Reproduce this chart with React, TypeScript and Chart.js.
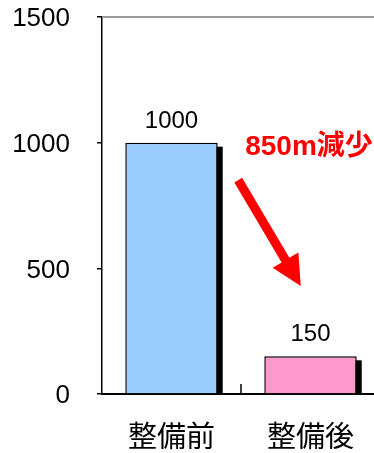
import React, { useEffect, useRef } from "react";
import { Chart, registerables } from "chart.js";

Chart.register(...registerables);

const categories = ["整備前", "整備後"];
const values = [1000, 150];
const barColors = ["#99CCFF", "#FF99CC"];
const yMin = 0;
const yMax = 1500;
const yStep = 500;
const annotationText = "850m減少";
const annotationAt = [0.53, 951];
const arrowFrom = [0.48, 851];
const arrowTo = [0.93, 430];

const decorPlugin = {
  id: "decor",
  beforeDatasetsDraw(chart: any) {
    const ctx = chart.ctx;
    const area = chart.chartArea;
    ctx.save();
    // top frame line
    ctx.strokeStyle = "#9a9a9a";
    ctx.lineWidth = 2;
    ctx.beginPath();
    ctx.moveTo(area.left, area.top);
    ctx.lineTo(area.right, area.top);
    ctx.stroke();
    // shadows
    const meta = chart.getDatasetMeta(0);
    ctx.fillStyle = "#000";
    meta.data.forEach((bar: any) => {
      const w = bar.width;
      const left = bar.x - w / 2 + 5;
      const top = bar.y + 4;
      ctx.fillRect(left, top, w, bar.base - top);
    });
    ctx.restore();
  },
  afterDatasetsDraw(chart: any) {
    const ctx = chart.ctx;
    const xs = chart.scales.x;
    const ys = chart.scales.y;
    const area = chart.chartArea;
    ctx.save();
    // inner category separator tick on x axis
    ctx.strokeStyle = "#000";
    ctx.lineWidth = 1.5;
    for (let i = 0; i < categories.length - 1; i++) {
      const px = (xs.getPixelForValue(i) + xs.getPixelForValue(i + 1)) / 2;
      ctx.beginPath();
      ctx.moveTo(px, area.bottom);
      ctx.lineTo(px, area.bottom - 10);
      ctx.stroke();
    }
    // value labels
    const meta = chart.getDatasetMeta(0);
    ctx.fillStyle = "#000";
    ctx.font = "24px 'Liberation Sans', Arial, sans-serif";
    ctx.textAlign = "center";
    ctx.textBaseline = "alphabetic";
    meta.data.forEach((bar: any, i: number) => {
      ctx.fillText(String(values[i]), bar.x, bar.y - 15);
    });
    // annotation text
    ctx.fillStyle = "#FF0000";
    ctx.font = "bold 28px 'Liberation Sans', 'Noto Sans CJK JP', sans-serif";
    ctx.textAlign = "left";
    ctx.fillText(
      annotationText,
      xs.getPixelForValue(annotationAt[0]),
      ys.getPixelForValue(annotationAt[1])
    );
    // arrow
    const x0 = xs.getPixelForValue(arrowFrom[0]);
    const y0 = ys.getPixelForValue(arrowFrom[1]);
    const x1 = xs.getPixelForValue(arrowTo[0]);
    const y1 = ys.getPixelForValue(arrowTo[1]);
    const dx = x1 - x0;
    const dy = y1 - y0;
    const len = Math.sqrt(dx * dx + dy * dy);
    const ux = dx / len;
    const uy = dy / len;
    const nx = -uy;
    const ny = ux;
    const headLen = 30;
    const headHalf = 15;
    const shaftHalf = 4.5;
    const bx = x1 - ux * headLen;
    const by = y1 - uy * headLen;
    ctx.beginPath();
    ctx.moveTo(x0 + nx * shaftHalf, y0 + ny * shaftHalf);
    ctx.lineTo(bx + nx * shaftHalf, by + ny * shaftHalf);
    ctx.lineTo(bx + nx * headHalf, by + ny * headHalf);
    ctx.lineTo(x1, y1);
    ctx.lineTo(bx - nx * headHalf, by - ny * headHalf);
    ctx.lineTo(bx - nx * shaftHalf, by - ny * shaftHalf);
    ctx.lineTo(x0 - nx * shaftHalf, y0 - ny * shaftHalf);
    ctx.closePath();
    ctx.fill();
    ctx.restore();
  },
};

export default function App() {
  const ref = useRef<HTMLCanvasElement | null>(null);
  useEffect(() => {
    if (!ref.current) return;
    const chart = new Chart(ref.current, {
      type: "bar",
      data: {
        labels: categories,
        datasets: [
          {
            data: values,
            backgroundColor: barColors,
            borderColor: "#000",
            borderWidth: 1.5,
            barPercentage: 0.665,
            categoryPercentage: 1,
          },
        ],
      },
      options: {
        responsive: false,
        animation: false,
        layout: { padding: { top: 17, right: 20, left: 0, bottom: 0 } },
        plugins: {
          legend: { display: false },
          tooltip: { enabled: false },
        },
        scales: {
          x: {
            grid: { display: false, drawTicks: false },
            border: { display: true, color: "#000", width: 2 },
            ticks: {
              color: "#000",
              font: { family: "'Noto Sans CJK JP', sans-serif", size: 29 },
              padding: 25,
              maxRotation: 0,
            },
            afterFit(scale: any) {
              scale.height = 59;
            },
          },
          y: {
            min: yMin,
            max: yMax,
            ticks: {
              stepSize: yStep,
              color: "#000",
              font: { family: "'Liberation Sans', Arial, sans-serif", size: 26 },
              padding: 27,
              labelOffset: 2,
              callback: (v: any) => String(v),
            },
            grid: {
              display: true,
              drawOnChartArea: false,
              drawTicks: true,
              tickLength: 5,
              color: "#000",
              lineWidth: 1.5,
            },
            border: { display: true, color: "#000", width: 1.5 },
            afterFit(scale: any) {
              scale.width = 102;
              scale.paddingTop = 0;
              scale.paddingBottom = 0;
            },
          },
        },
      },
      plugins: [decorPlugin],
    });
    return () => chart.destroy();
  }, []);
  return (
    <div
      style={{
        position: "absolute",
        left: 0,
        top: 0,
        width: 374,
        height: 453,
        overflow: "hidden",
        background: "#fff",
      }}
    >
      <canvas ref={ref} width={400} height={453} style={{ display: "block" }} />
    </div>
  );
}
